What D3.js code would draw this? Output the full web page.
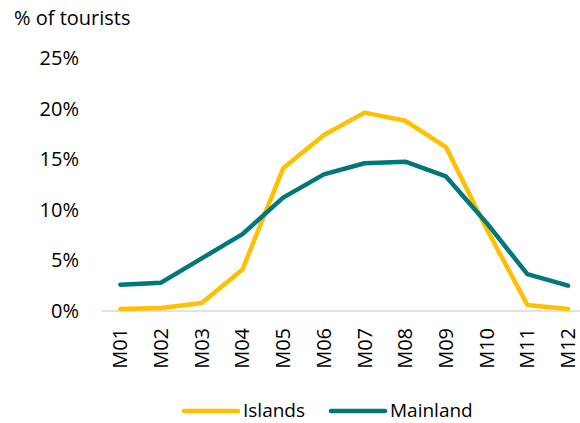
<!DOCTYPE html>
<html>
<head>
<meta charset="utf-8">
<script src="https://cdn.jsdelivr.net/npm/d3@7"></script>
<style>
  body { margin: 0; background: #fff; }
  svg text { font-family: "Open Sans", "Noto Sans", sans-serif; fill: #000; }
</style>
</head>
<body>
<script>
let months = ['M01','M02','M03','M04','M05','M06','M07','M08','M09','M10','M11','M12'];
let islands = [0.2, 0.3, 0.8, 4.1, 14.1, 17.4, 19.6, 18.8, 16.2, 8.1, 0.6, 0.2];
let mainland = [2.6, 2.8, 5.2, 7.6, 11.2, 13.5, 14.6, 14.75, 13.3, 8.7, 3.65, 2.5];
let yTicks = [0, 5, 10, 15, 20, 25];
let seriesNames = ['Islands', 'Mainland'];
let colors = ['#FFC000', '#00787A'];

let width = 580, height = 423;
let margin = { top: 58, left: 100, bottom: 112 };

let svg = d3.select('body').append('svg')
    .attr('width', width)
    .attr('height', height);

// x is a band scale, points sit in the middle of each band
let x = d3.scaleBand().domain(months).range([margin.left, margin.left + 12 * 40.7]);
let y = d3.scaleLinear().domain([0, 25]).range([height - margin.bottom, margin.top]);

svg.append('text')
    .attr('x', 14)
    .attr('y', 25)
    .style('font-size', '20px')
    .text('% of tourists');

// y axis labels only
let yAxis = d3.axisLeft(y).tickValues(yTicks).tickSize(0).tickPadding(0)
    .tickFormat(d => d + '%');
let gy = svg.append('g')
    .attr('transform', 'translate(79,0)')
    .call(yAxis);
gy.select('.domain').remove();
gy.selectAll('text').style('font-size', '20px');

// x axis
let xAxis = d3.axisBottom(x).tickSize(0).tickPadding(0);
let gx = svg.append('g')
    .attr('transform', 'translate(0,' + y(0) + ')')
    .call(xAxis);
gx.select('.domain').remove();
gx.append('line')
    .attr('x1', margin.left + 1).attr('x2', width)
    .attr('stroke', '#d9d9d9').attr('stroke-width', 1.5);
gx.selectAll('.tick text')
    .style('font-size', '20px')
    .attr('text-anchor', 'end')
    .attr('dy', '0.35em')
    .attr('transform', 'translate(0,17) rotate(-90)')
    .attr('y', 0)
    .attr('x', 0);

let line = d3.line()
    .x((d, i) => x(months[i]) + x.bandwidth() / 2)
    .y(d => y(d));

[islands, mainland].forEach(function(s, i) {
  svg.append('path')
      .datum(s)
      .attr('fill', 'none')
      .attr('stroke', colors[i])
      .attr('stroke-width', 4.5)
      .attr('stroke-linejoin', 'round')
      .attr('stroke-linecap', 'round')
      .attr('d', line);
});

// legend
let legendX = [184, 331];
seriesNames.forEach(function(n, i) {
  let g = svg.append('g').attr('transform', 'translate(' + legendX[i] + ',411)');
  g.append('line')
      .attr('x1', 0).attr('x2', 54)
      .attr('stroke', colors[i]).attr('stroke-width', 4.5)
      .attr('stroke-linecap', 'round');
  g.append('text')
      .attr('x', 59)
      .attr('dy', '0.3em')
      .style('font-size', '19px')
      .text(n);
});
</script>
</body>
</html>
